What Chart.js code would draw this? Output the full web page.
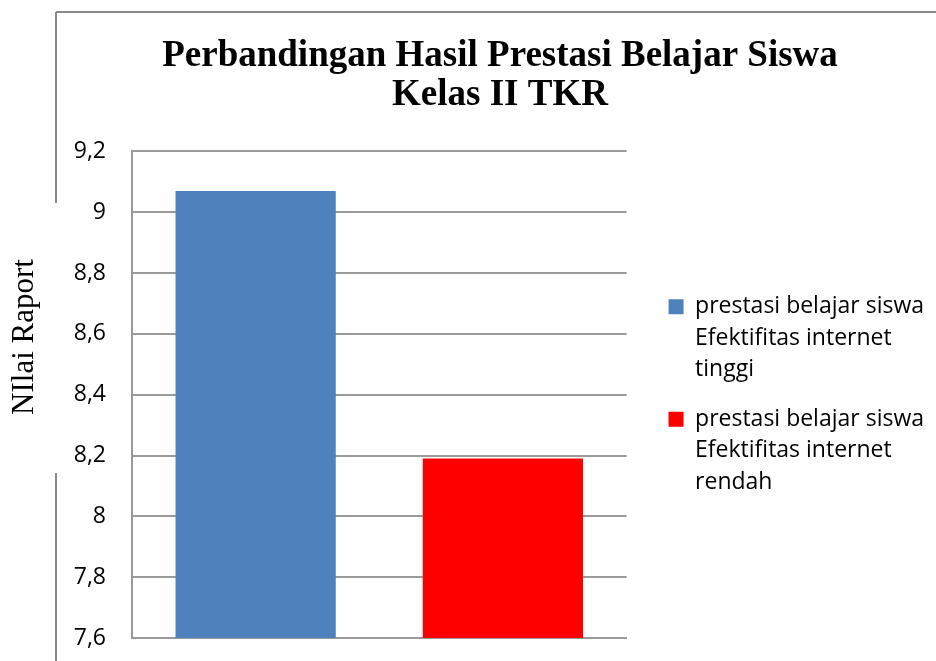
<!DOCTYPE html>
<html lang="id">
  <head>
    <meta charset="UTF-8" />
    <title>Perbandingan Hasil Prestasi Belajar Siswa</title>
    <script src="https://cdn.jsdelivr.net/npm/chart.js"></script>
    <style>
      body { margin: 0; background: #fff; }
      #wrap { width: 936px; height: 661px; }
    </style>
  </head>
  <body>
    <div id="wrap"><canvas id="nilaiChart" width="936" height="661"></canvas></div>

    <script>
      // data
      const categories = ['', '']
      const seriesNames = [
        ['prestasi belajar siswa', 'Efektifitas internet', 'tinggi'],
        ['prestasi belajar siswa', 'Efektifitas internet', 'rendah'],
      ]
      const seriesTinggi = [9.07, null]
      const seriesRendah = [null, 8.19]
      const seriesColors = ['#4F81BD', '#FF0000']
      const yMin = 7.6
      const yMax = 9.2
      const yStep = 0.2
      const chartTitle = ['Perbandingan Hasil Prestasi Belajar Siswa', 'Kelas II TKR']
      const yTitle = 'NIlai Raport'

      const gridGray = '#9a9a9a'

      // outer frame + rotated axis title, like the Excel original
      const excelFrame = {
        id: 'excelFrame',
        beforeDraw(chart) {
          const ctx = chart.ctx
          ctx.save()
          ctx.strokeStyle = '#8a8a8a'
          ctx.lineWidth = 2
          ctx.beginPath()
          ctx.moveTo(56, 12)
          ctx.lineTo(936, 12)
          ctx.moveTo(56, 12)
          ctx.lineTo(56, 203)
          ctx.moveTo(56, 473)
          ctx.lineTo(56, 661)
          ctx.stroke()
          ctx.restore()
        },
        afterDraw(chart) {
          const ctx = chart.ctx
          ctx.save()
          ctx.translate(33, 337)
          ctx.rotate(-Math.PI / 2)
          ctx.font = '31px "Liberation Serif", "Times New Roman", serif'
          ctx.fillStyle = '#000'
          ctx.textAlign = 'center'
          ctx.textBaseline = 'alphabetic'
          ctx.fillText(yTitle, 0, 0)
          ctx.restore()
        },
        afterLayout(chart) {
          const area = chart.chartArea
          // legend: a bit further from the plot, centred on the plot height
          const lg = chart.legend
          const pad = lg.options.labels.padding
          const dx = area.right + 42 - (lg.left + pad)
          lg.left += dx
          lg.right += dx
          lg.top = area.top + 4
          lg.bottom = area.bottom + 4
          // title centred on the chart frame (frame starts at x=56)
          const tb = chart.titleBlock
          const tx = (56 + 936) / 2 + 4 - (tb.left + tb.right) / 2
          tb.left += tx
          tb.right += tx
        },
      }

      const ctx = document.getElementById('nilaiChart').getContext('2d')
      new Chart(ctx, {
        type: 'bar',
        data: {
          labels: categories,
          datasets: [
            {
              label: seriesNames[0],
              data: seriesTinggi,
              backgroundColor: seriesColors[0],
            },
            {
              label: seriesNames[1],
              data: seriesRendah,
              backgroundColor: seriesColors[1],
            },
          ],
        },
        options: {
          responsive: false,
          animation: false,
          devicePixelRatio: 1,
          layout: { padding: { left: 64, top: 12, right: 26, bottom: 23 } },
          datasets: {
            bar: { grouped: false, barPercentage: 0.648, categoryPercentage: 1 },
          },
          plugins: {
            title: {
              display: true,
              text: chartTitle,
              color: '#000',
              font: { family: '"Liberation Serif", "Times New Roman", serif', size: 37, weight: 'bold', lineHeight: 1.06 },
              padding: { top: 25, bottom: 36 },
            },
            legend: {
              position: 'right',
              maxWidth: 320,
              labels: {
                color: '#000',
                font: { family: '"Open Sans", sans-serif', size: 23, lineHeight: 1.37 },
                boxWidth: 15,
                boxHeight: 15,
                padding: 18,
              },
            },
            tooltip: { enabled: false },
          },
          scales: {
            x: {
              grid: { display: false, drawTicks: false },
              border: { color: gridGray, width: 2 },
              ticks: { display: false },
              afterFit(scale) { scale.height = 0 },
            },
            y: {
              min: yMin,
              max: yMax,
              grid: { color: gridGray, lineWidth: 2, drawTicks: false },
              border: { color: gridGray, width: 2 },
              ticks: {
                stepSize: yStep,
                padding: 26,
                color: '#000',
                font: { family: '"Open Sans", sans-serif', size: 23 },
                callback: (v) => String(Number(v.toFixed(1))).replace('.', ','),
              },
              afterFit(scale) {
                scale.width = 68
                // tick padding is only meant horizontally here
                scale.paddingTop = 0
                scale.paddingBottom = 0
              },
            },
          },
        },
        plugins: [excelFrame],
      })
    </script>
  </body>
</html>
